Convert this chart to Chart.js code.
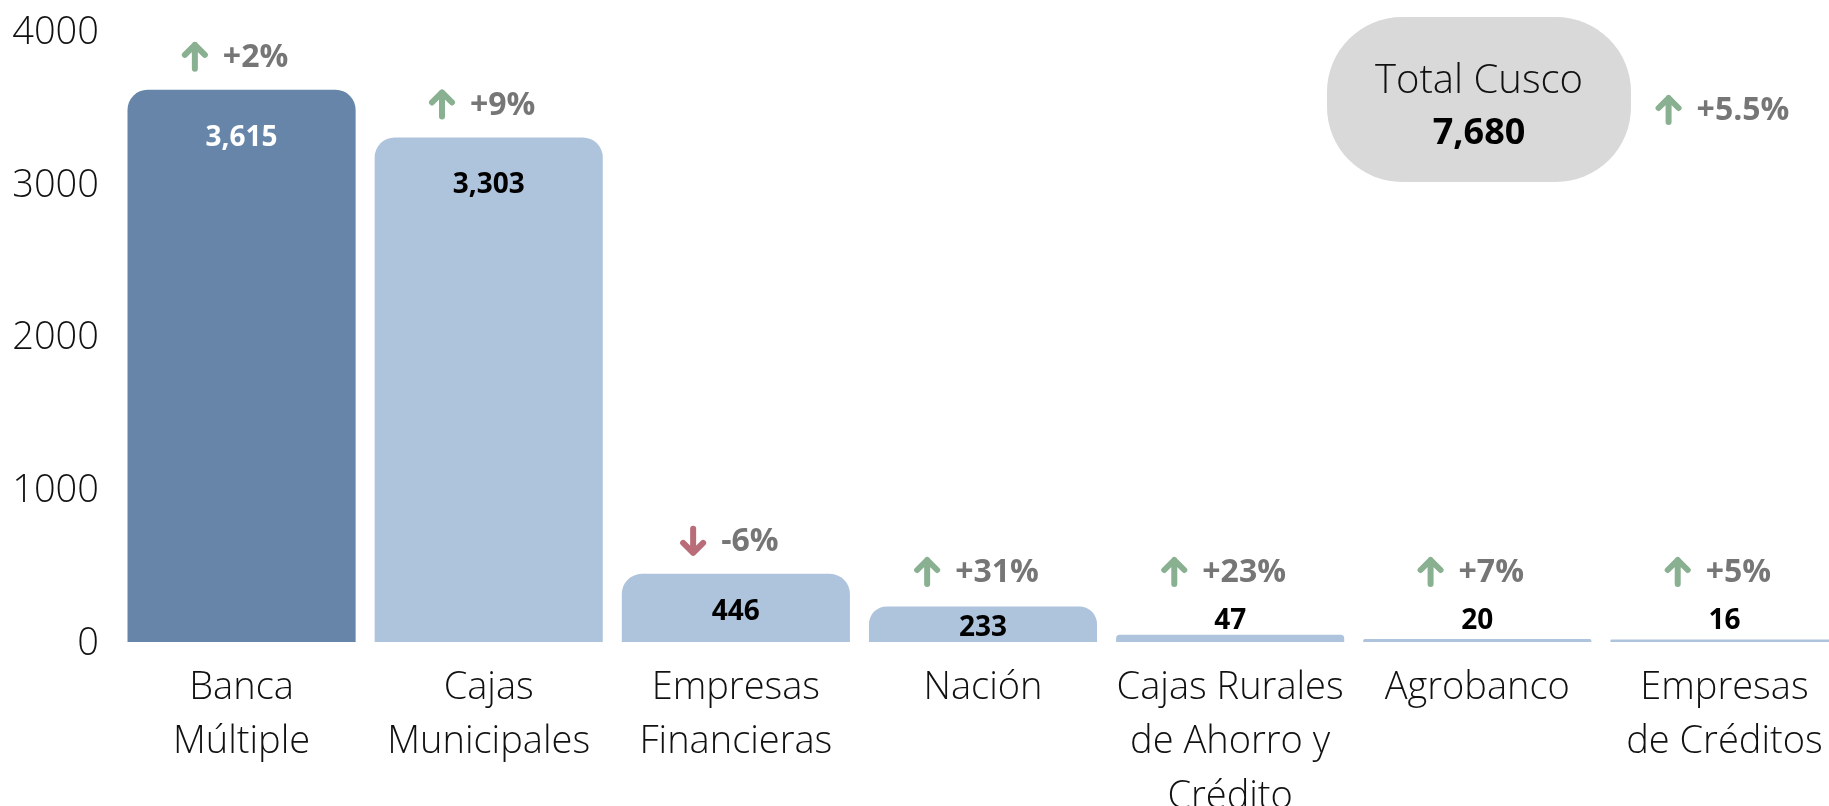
<!DOCTYPE html>
<html>
<head>
<meta charset="utf-8">
<script src="https://cdn.jsdelivr.net/npm/chart.js@4"></script>
<style>
  html, body { margin: 0; padding: 0; background: #fff; overflow: hidden; }
  .wrap { width: 1848px; height: 806px; }
</style>
</head>
<body>
<div class="wrap"><canvas id="myChart"></canvas></div>
<script>
// Chart data
const categories = [
  ["Banca", "Múltiple"],
  ["Cajas", "Municipales"],
  ["Empresas", "Financieras"],
  ["Nación"],
  ["Cajas Rurales", "de Ahorro y", "Crédito"],
  ["Agrobanco"],
  ["Empresas", "de Créditos"],
];
const values = [3615, 3303, 446, 233, 47, 20, 16];
const changes = [2, 9, -6, 31, 23, 7, 5]; // % change vs previous period
const totalLabel = "Total Cusco";
const totalChange = 5.5;
const yTicks = [0, 1000, 2000, 3000, 4000];

const barColors = values.map((v, i) => (i === 0 ? "#6685a8" : "#aec3dc"));
const upColor = "#8ab092";
const downColor = "#b86d78";
const pctColor = "#767676";
const lightFont = "'Open Sans', 'Noto Sans', sans-serif";

// Draws a small arrow (up or down) centred on x, y
const drawArrow = (ctx, x, y, up) => {
  ctx.save();
  ctx.strokeStyle = up ? upColor : downColor;
  ctx.lineWidth = 6;
  ctx.lineCap = "round";
  ctx.lineJoin = "round";
  const d = up ? -1 : 1;
  ctx.beginPath();
  ctx.moveTo(x, y - d * 12);
  ctx.lineTo(x, y + d * 12);
  ctx.moveTo(x - 10, y + d * 2);
  ctx.lineTo(x, y + d * 12);
  ctx.lineTo(x + 10, y + d * 2);
  ctx.stroke();
  ctx.restore();
};

// Arrow + percentage text, group roughly centred on cx
const drawChange = (ctx, cx, y, pct) => {
  const txt = (pct > 0 ? "+" : "") + pct + "%";
  ctx.font = "bold 32px " + lightFont;
  const w = ctx.measureText(txt).width;
  const total = 40 + w;
  const left = cx - total / 2 - 6;
  drawArrow(ctx, left + 12, y, pct >= 0);
  ctx.fillStyle = pctColor;
  ctx.textAlign = "left";
  ctx.textBaseline = "middle";
  ctx.fillText(txt, left + 40, y + 1);
};

// Plugin for the value labels, change arrows and the total box
const labelsPlugin = {
  id: "labels",
  afterDatasetsDraw: (chart) => {
    const ctx = chart.ctx;
    const meta = chart.getDatasetMeta(0);
    const base = chart.scales.y.getPixelForValue(0);
    ctx.save();
    meta.data.forEach((bar, i) => {
      const top = bar.y;
      const h = base - top;
      // value label
      let vy;
      if (h > 300) vy = top + 48;
      else if (h > 50) vy = top + 38;
      else if (h > 20) vy = top + h * 0.6;
      else vy = base - 21;
      ctx.font = "bold 28px " + lightFont;
      ctx.fillStyle = i === 0 ? "#ffffff" : "#000000";
      ctx.textAlign = "center";
      ctx.textBaseline = "middle";
      ctx.fillText(values[i].toLocaleString("en-US"), bar.x, vy);
      // change label
      const py = Math.min(top - 33, base - 70);
      drawChange(ctx, bar.x, py, changes[i]);
    });

    // total box
    const bx = 1327, by = 17, bw = 304, bh = 165;
    ctx.fillStyle = "#d9d9d9";
    ctx.beginPath();
    ctx.roundRect(bx, by, bw, bh, 75);
    ctx.fill();
    ctx.fillStyle = "#111";
    ctx.textAlign = "center";
    ctx.textBaseline = "middle";
    ctx.font = "300 40px " + lightFont;
    ctx.fillText(totalLabel, bx + bw / 2, 82);
    ctx.font = "bold 36px " + lightFont;
    ctx.fillStyle = "#000";
    const total = values.reduce((a, b) => a + b, 0);
    ctx.fillText(total.toLocaleString("en-US"), bx + bw / 2, 134);
    drawChange(ctx, 1729, 110, totalChange);
    ctx.restore();
  },
};

const ctx = document.getElementById("myChart").getContext("2d");
const myChart = new Chart(ctx, {
  type: "bar",
  data: {
    labels: categories,
    datasets: [
      {
        data: values,
        backgroundColor: barColors,
        borderWidth: 0,
        borderRadius: { topLeft: 20, topRight: 20 },
        borderSkipped: "start",
        barPercentage: 0.923,
        categoryPercentage: 1,
      },
    ],
  },
  options: {
    responsive: true,
    maintainAspectRatio: false,
    animation: false,
    layout: { padding: { top: 31, left: 0, right: 0, bottom: 0 } },
    plugins: {
      legend: { display: false },
      tooltip: { enabled: false },
    },
    scales: {
      x: {
        grid: { display: false, drawTicks: false },
        border: { display: false },
        ticks: {
          color: "#111",
          padding: 19,
          maxRotation: 0,
          autoSkip: false,
          font: { family: lightFont, size: 38, weight: "300", lineHeight: 1.43 },
        },
        afterFit: (s) => { s.height = 164; },
      },
      y: {
        min: 0,
        max: 4000,
        grid: { display: false, drawTicks: false },
        border: { display: false },
        afterBuildTicks: (s) => { s.ticks = yTicks.map((v) => ({ value: v })); },
        ticks: {
          color: "#111",
          padding: 19,
          labelOffset: 2,
          callback: (v) => String(v),
          // small lineHeight keeps the label padding from pushing the plot down
          font: { family: lightFont, size: 38, weight: "300", lineHeight: 0.5 },
        },
        afterFit: (s) => { s.width = 118; },
      },
    },
  },
  plugins: [labelsPlugin],
});
</script>
</body>
</html>
